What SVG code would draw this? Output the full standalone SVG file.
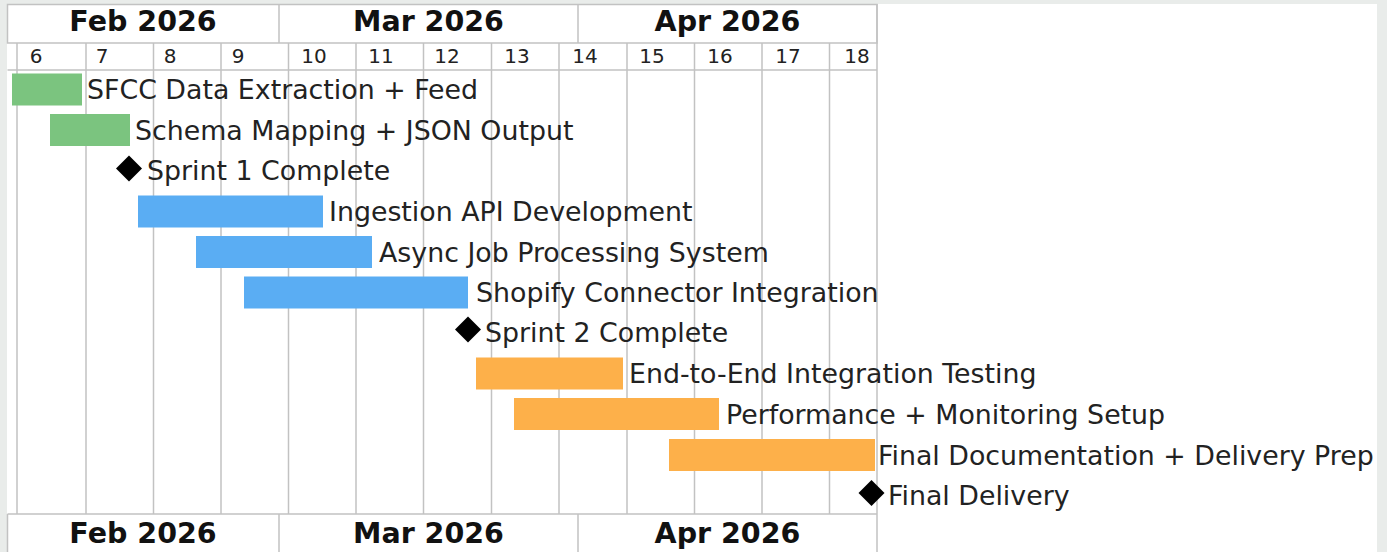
<svg xmlns="http://www.w3.org/2000/svg" width="1387" height="552" viewBox="0 0 1387 552">
<style>
.grid{stroke:#c2c2c2;stroke-width:1.5;fill:none}
.month{font-family:"DejaVu Sans",sans-serif;font-weight:bold;font-size:28.5px;text-anchor:middle;fill:#111}
.day{font-family:"DejaVu Sans",sans-serif;font-size:20px;text-anchor:middle;fill:#222}
.label{font-family:"DejaVu Sans",sans-serif;font-size:26.8px;fill:#222}
.g{fill:#7bc47f}
.b{fill:#5aadf3}
.o{fill:#fdb04a}
.m{fill:#000}
</style>
<rect x="0" y="0" width="1387" height="552" fill="#e9ecea"/>
<rect x="7" y="4" width="1370" height="548" fill="#fff"/>
<g id="grid">
<rect class="grid" x="7.5" y="4.5" width="869.5" height="38.5"/>
<line class="grid" x1="7.5" y1="70" x2="877" y2="70"/>
<line class="grid" x1="7.5" y1="514" x2="877" y2="514"/>
<line class="grid" x1="877" y1="4" x2="877" y2="552"/>
<line class="grid" x1="7.5" y1="514" x2="7.5" y2="552"/>
<line class="grid" x1="279" y1="4" x2="279" y2="43"/>
<line class="grid" x1="578" y1="4" x2="578" y2="43"/>
<line class="grid" x1="279" y1="514" x2="279" y2="552"/>
<line class="grid" x1="578" y1="514" x2="578" y2="552"/>
<g class="grid">
<line x1="17" y1="43" x2="17" y2="514"/>
<line x1="86" y1="43" x2="86" y2="514"/>
<line x1="153.5" y1="43" x2="153.5" y2="514"/>
<line x1="221" y1="43" x2="221" y2="514"/>
<line x1="288.5" y1="43" x2="288.5" y2="514"/>
<line x1="356" y1="43" x2="356" y2="514"/>
<line x1="423.5" y1="43" x2="423.5" y2="514"/>
<line x1="491.5" y1="43" x2="491.5" y2="514"/>
<line x1="559" y1="43" x2="559" y2="514"/>
<line x1="627" y1="43" x2="627" y2="514"/>
<line x1="694.5" y1="43" x2="694.5" y2="514"/>
<line x1="762" y1="43" x2="762" y2="514"/>
<line x1="829.5" y1="43" x2="829.5" y2="514"/>
</g>
</g>
<g id="header">
<text class="month" x="143" y="31">Feb 2026</text>
<text class="month" x="428.5" y="31">Mar 2026</text>
<text class="month" x="727.5" y="31">Apr 2026</text>
<text class="day" x="36" y="63">6</text>
<text class="day" x="102" y="63">7</text>
<text class="day" x="170" y="63">8</text>
<text class="day" x="238" y="63">9</text>
<text class="day" x="314" y="63">10</text>
<text class="day" x="381" y="63">11</text>
<text class="day" x="447" y="63">12</text>
<text class="day" x="517" y="63">13</text>
<text class="day" x="585" y="63">14</text>
<text class="day" x="652" y="63">15</text>
<text class="day" x="720" y="63">16</text>
<text class="day" x="788" y="63">17</text>
<text class="day" x="857" y="63">18</text>
</g>
<g id="footer">
<text class="month" x="143" y="543">Feb 2026</text>
<text class="month" x="428.5" y="543">Mar 2026</text>
<text class="month" x="727.5" y="543">Apr 2026</text>
</g>
<g id="connectors"/>
<g id="task-sfcc"><rect class="g" x="12" y="73.5" width="70" height="32"/><text class="label" x="87" y="99">SFCC Data Extraction + Feed</text></g>
<g id="task-schema"><rect class="g" x="50" y="114" width="80" height="32"/><text class="label" x="135" y="139.5">Schema Mapping + JSON Output</text></g>
<g id="milestone-sprint1"><path class="m" d="M129 155.5 L142 168.5 L129 181.5 L116 168.5 Z"/><text class="label" x="147" y="179.5">Sprint 1 Complete</text></g>
<g id="task-ingestion"><rect class="b" x="138" y="195.5" width="185" height="32"/><text class="label" x="329" y="221">Ingestion API Development</text></g>
<g id="task-async"><rect class="b" x="196" y="236" width="176" height="32"/><text class="label" x="379" y="261.5">Async Job Processing System</text></g>
<g id="task-shopify"><rect class="b" x="244" y="276.5" width="224" height="32"/><text class="label" x="476" y="302">Shopify Connector Integration</text></g>
<g id="milestone-sprint2"><path class="m" d="M468 316.5 L481 329.5 L468 342.5 L455 329.5 Z"/><text class="label" x="485" y="342">Sprint 2 Complete</text></g>
<g id="task-e2e"><rect class="o" x="476" y="357.5" width="147" height="32"/><text class="label" x="629" y="383">End-to-End Integration Testing</text></g>
<g id="task-perf"><rect class="o" x="514" y="398" width="205" height="32"/><text class="label" x="726" y="423.5">Performance + Monitoring Setup</text></g>
<g id="task-docs"><rect class="o" x="669" y="439" width="206" height="32"/><text class="label" x="878" y="464.5">Final Documentation + Delivery Prep</text></g>
<g id="milestone-final"><path class="m" d="M871.5 480 L884.5 493 L871.5 506 L858.5 493 Z"/><text class="label" x="888" y="504.5">Final Delivery</text></g>
</svg>
